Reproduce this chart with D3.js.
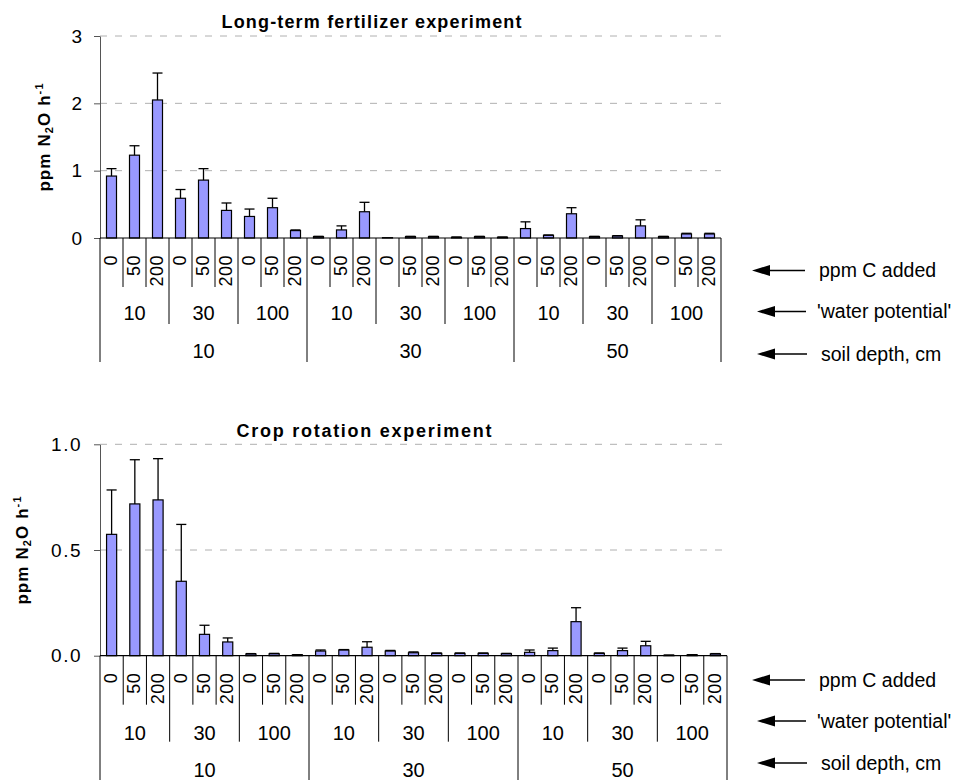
<!DOCTYPE html>
<html>
<head>
<meta charset="utf-8">
<script src="https://cdn.jsdelivr.net/npm/d3@7"></script>
<style>
  html, body { margin: 0; padding: 0; background: #fff; }
  svg { display: block; }
  text { font-family: "Liberation Sans", Arial, sans-serif; fill: #000; }
</style>
</head>
<body>
<svg id="chart" width="957" height="780"></svg>
<script>
// ---------------- DATA ----------------
const carbonLevels = ["0", "50", "200"];          // ppm C added
const waterLevels = ["10", "30", "100"];          // 'water potential'
const depthLevels = ["10", "30", "50"];           // soil depth, cm

const fertTitle = "Long-term fertilizer experiment";
const fertMeans = [0.92, 1.23, 2.05, 0.59, 0.86, 0.41, 0.32, 0.45, 0.11,
                   0.02, 0.12, 0.39, 0.005, 0.02, 0.02, 0.01, 0.02, 0.01,
                   0.14, 0.04, 0.36, 0.02, 0.03, 0.18, 0.02, 0.06, 0.06];
const fertErrors = [0.11, 0.14, 0.40, 0.13, 0.17, 0.11, 0.11, 0.14, 0.01,
                    0.005, 0.06, 0.14, 0.0, 0.005, 0.005, 0.005, 0.005, 0.005,
                    0.10, 0.005, 0.09, 0.005, 0.005, 0.09, 0.005, 0.01, 0.01];
const fertTicks = [0, 1, 2, 3];

const cropTitle = "Crop rotation experiment";
const cropMeans = [0.574, 0.718, 0.737, 0.352, 0.101, 0.065, 0.008, 0.009, 0.004,
                   0.022, 0.027, 0.040, 0.022, 0.014, 0.011, 0.011, 0.011, 0.009,
                   0.016, 0.024, 0.161, 0.011, 0.024, 0.047, 0.002, 0.004, 0.008];
const cropErrors = [0.210, 0.209, 0.195, 0.269, 0.043, 0.019, 0.002, 0.002, 0.001,
                    0.005, 0.002, 0.026, 0.003, 0.004, 0.002, 0.002, 0.002, 0.002,
                    0.011, 0.012, 0.066, 0.002, 0.012, 0.021, 0.001, 0.001, 0.002];
const cropTicks = [0, 0.5, 1.0];

const tierLabels = ["ppm C added", "'water potential'", "soil depth, cm"];

// ---------------- DRAW ----------------
const svg = d3.select("#chart");
const FONT = "'Liberation Sans', Arial, sans-serif";

// build categories (depth > water > carbon)
const cats = [];
depthLevels.forEach((d, di) => waterLevels.forEach((w, wi) => carbonLevels.forEach((c, ci) => {
  cats.push({ id: di + "-" + wi + "-" + ci, d, w, c, di, wi, ci });
})));

function drawChart(cfg) {
  const g = svg.append("g");
  const x = d3.scaleBand().domain(cats.map(c => c.id)).range([cfg.x0, cfg.x1]).paddingInner(0).paddingOuter(0);
  const y = d3.scaleLinear().domain([0, cfg.yMax]).range([cfg.yBase, cfg.yTop]);
  const bw = x.bandwidth();
  const barW = bw / 2.3;

  // gridlines
  g.append("g").selectAll("line").data(cfg.ticks.filter(t => t > 0)).join("line")
    .attr("x1", cfg.x0).attr("x2", cfg.x1)
    .attr("y1", d => y(d)).attr("y2", d => y(d))
    .attr("stroke", "#b0b0b0").attr("stroke-width", 1).attr("stroke-dasharray", "7,8");

  // y axis
  const ya = g.append("g").attr("transform", `translate(${cfg.x0},0)`)
    .call(d3.axisLeft(y).tickValues(cfg.ticks).tickFormat(cfg.fmt).tickSize(6).tickSizeOuter(0).tickPadding(12));
  ya.select(".domain").attr("stroke", "#555");
  ya.selectAll(".tick line").attr("stroke", "#555");
  ya.selectAll(".tick text").attr("font-size", 19).attr("font-family", FONT).attr("fill", "#000")
    .attr("letter-spacing", cfg.tickSpacing);

  // bars
  const data = cats.map((c, i) => ({ id: c.id, m: cfg.means[i], e: cfg.errors[i] }));
  g.append("g").selectAll("rect").data(data).join("rect")
    .attr("x", d => x(d.id) + (bw - barW) / 2)
    .attr("width", barW)
    .attr("y", d => y(d.m))
    .attr("height", d => Math.max(0, y(0) - y(d.m)))
    .attr("fill", "#9999ff").attr("stroke", "#000").attr("stroke-width", 1.2);

  // error bars (upper)
  const eg = g.append("g").attr("stroke", "#000").attr("stroke-width", 1.3);
  eg.selectAll("line.v").data(data.filter(d => d.e > 0)).join("line").attr("class", "v")
    .attr("x1", d => x(d.id) + bw / 2).attr("x2", d => x(d.id) + bw / 2)
    .attr("y1", d => y(d.m)).attr("y2", d => y(d.m + d.e));
  eg.selectAll("line.c").data(data.filter(d => d.e > 0)).join("line").attr("class", "c")
    .attr("x1", d => x(d.id) + (bw - barW) / 2).attr("x2", d => x(d.id) + (bw + barW) / 2)
    .attr("y1", d => y(d.m + d.e)).attr("y2", d => y(d.m + d.e));

  // x axis line
  g.append("line").attr("x1", cfg.x0).attr("x2", cfg.x1).attr("y1", cfg.yBase).attr("y2", cfg.yBase)
    .attr("stroke", "#000").attr("stroke-width", 1.2);

  // tier separators
  const base = cfg.yBase;
  const tg = g.append("g").attr("stroke", "#000").attr("stroke-width", 1);
  const bounds = d3.range(cats.length + 1);
  tg.selectAll("line").data(bounds).join("line")
    .attr("x1", i => cfg.x0 + i * bw).attr("x2", i => cfg.x0 + i * bw)
    .attr("y1", base)
    .attr("y2", i => (i % 9 === 0) ? base + cfg.t3 : (i % 3 === 0 ? base + cfg.t2 : base + cfg.t1));

  // tier 1 labels (rotated)
  g.append("g").selectAll("text").data(cats).join("text")
    .attr("transform", c => `translate(${x(c.id) + bw / 2 - 1},${base + 17}) rotate(-90)`)
    .attr("text-anchor", "end").attr("dy", "0.36em")
    .attr("font-size", 18).attr("letter-spacing", 0.5)
    .text(c => c.c);

  // tier 2 labels
  const wgroups = [];
  depthLevels.forEach((d, di) => waterLevels.forEach((w, wi) => wgroups.push({ w, k: di * 3 + wi })));
  g.append("g").selectAll("text").data(wgroups).join("text")
    .attr("x", gr => cfg.x0 + (gr.k * 3 + 1.5) * bw)
    .attr("y", base + cfg.l2)
    .attr("text-anchor", "middle").attr("font-size", 20)
    .text(gr => gr.w);

  // tier 3 labels
  g.append("g").selectAll("text").data(depthLevels).join("text")
    .attr("x", (d, i) => cfg.x0 + (i * 9 + 4.5) * bw)
    .attr("y", base + cfg.l3)
    .attr("text-anchor", "middle").attr("font-size", 20)
    .text(d => d);

  // title
  g.append("text").attr("x", cfg.titleX).attr("y", cfg.titleY)
    .attr("text-anchor", "middle").attr("font-size", 18).attr("font-weight", "bold")
    .attr("textLength", cfg.titleLen).attr("lengthAdjust", "spacing")
    .text(cfg.title);

  // y label
  const yl = g.append("text")
    .attr("transform", `translate(${cfg.ylX},${(cfg.yBase + cfg.yTop) / 2}) rotate(-90)`)
    .attr("text-anchor", "middle").attr("font-size", 17).attr("font-weight", "bold")
    .attr("letter-spacing", 1.1);
  yl.append("tspan").text("ppm N");
  yl.append("tspan").attr("font-size", 11).attr("dy", 3).text("2");
  yl.append("tspan").attr("dy", -3).text("O h");
  yl.append("tspan").attr("font-size", 11).attr("dy", -7).text("-1");

  // arrows + labels
  const ag = g.append("g");
  tierLabels.forEach((lab, i) => {
    const ay = cfg.arrowY[i];
    const tip = cfg.arrowTip[i];
    const end = cfg.arrowEnd[i];
    ag.append("line").attr("x1", tip + 12).attr("x2", end).attr("y1", ay).attr("y2", ay)
      .attr("stroke", "#000").attr("stroke-width", 1.3);
    ag.append("path").attr("d", `M${tip},${ay} L${tip + 18},${ay - 5.5} L${tip + 18},${ay + 5.5} Z`)
      .attr("fill", "#000");
    ag.append("text").attr("x", cfg.textX[i]).attr("y", ay + 6.8)
      .attr("font-size", 19.5).text(lab);
  });
}

drawChart({
  x0: 100, x1: 721, yBase: 238, yTop: 36, yMax: 3,
  ticks: fertTicks, fmt: d3.format("d"), tickSpacing: 0,
  means: fertMeans, errors: fertErrors,
  t1: 49, t2: 86, t3: 124, l2: 82, l3: 120,
  title: fertTitle, titleX: 371.5, titleY: 28, titleLen: 300,
  ylX: 50,
  arrowY: [270.5, 311.5, 354], arrowTip: [752, 757, 757], arrowEnd: [805, 806, 807],
  textX: [819, 817, 821]
});

drawChart({
  x0: 100, x1: 727, yBase: 655.7, yTop: 444.3, yMax: 1,
  ticks: cropTicks, fmt: d3.format(".1f"), tickSpacing: 1.5,
  means: cropMeans, errors: cropErrors,
  t1: 49, t2: 86, t3: 130, l2: 84, l3: 121,
  title: cropTitle, titleX: 364, titleY: 437, titleLen: 255,
  ylX: 28,
  arrowY: [680, 721, 763], arrowTip: [752, 757, 757], arrowEnd: [805, 806, 807],
  textX: [819, 817, 821]
});
</script>
</body>
</html>
